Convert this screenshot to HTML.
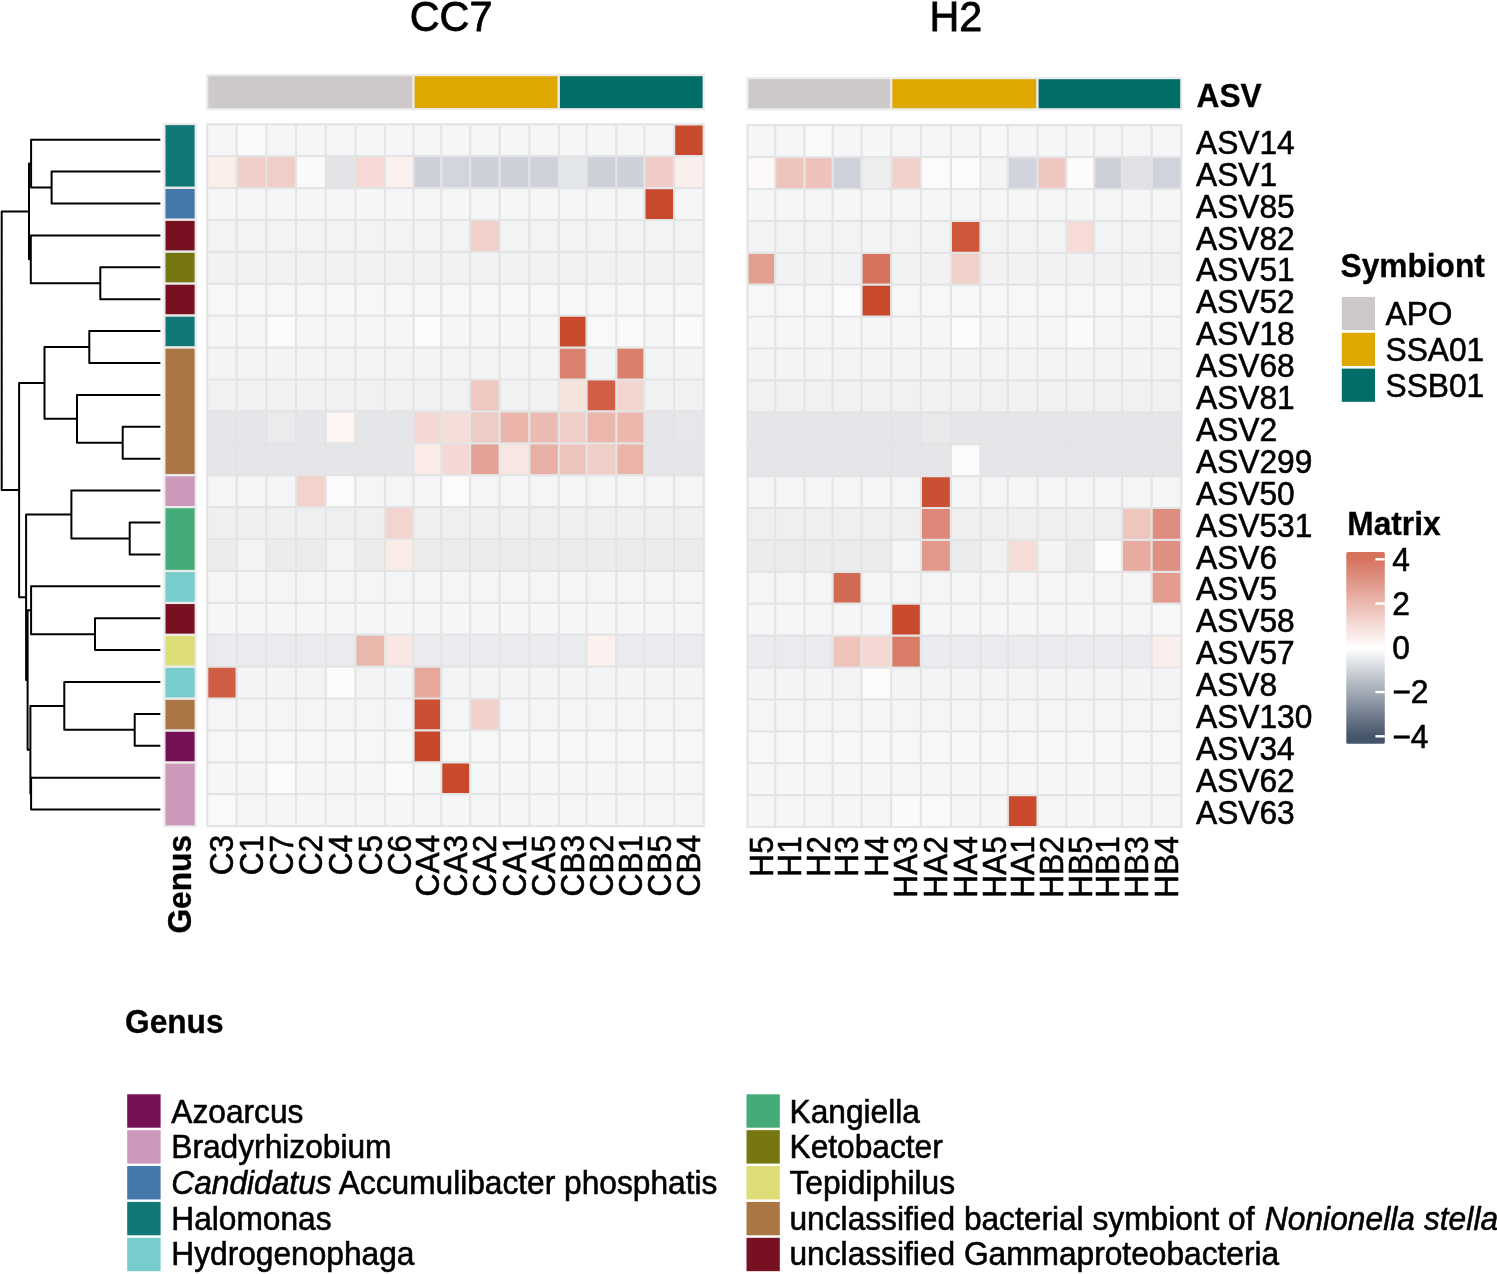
<!DOCTYPE html>
<html lang="en"><head><meta charset="utf-8"><title>Heatmap</title>
<style>html,body{margin:0;padding:0;background:#fff}svg{display:block;will-change:transform}</style>
</head><body>
<svg width="1497" height="1274" viewBox="0 0 1497 1274" font-family='"Liberation Sans", Arial, Helvetica, sans-serif' font-size="31.7" fill="#000">
<rect width="1497" height="1274" fill="#fff"/>
<text transform="translate(409.80 31.20) scale(1 1.04)" font-size="41.3" stroke="#000" stroke-width="0.8">CC7</text>
<text transform="translate(929.50 31.20) scale(1 1.04)" font-size="41.3" stroke="#000" stroke-width="0.8">H2</text>
<rect x="207.20" y="75.10" width="206.30" height="34.10" fill="#cdc9ca" stroke="#ebebeb" stroke-width="2.2"/>
<rect x="413.50" y="75.10" width="145.30" height="34.10" fill="#dea800" stroke="#ebebeb" stroke-width="2.2"/>
<rect x="558.80" y="75.10" width="144.90" height="34.10" fill="#006d67" stroke="#ebebeb" stroke-width="2.2"/>
<rect x="747.50" y="78.10" width="143.70" height="31.20" fill="#cdc9ca" stroke="#ebebeb" stroke-width="2.2"/>
<rect x="891.20" y="78.10" width="146.30" height="31.20" fill="#dea800" stroke="#ebebeb" stroke-width="2.2"/>
<rect x="1037.50" y="78.10" width="143.80" height="31.20" fill="#006d67" stroke="#ebebeb" stroke-width="2.2"/>
<rect x="207.20" y="124.30" width="496.50" height="31.90" fill="#f5f6f8"/>
<rect x="236.65" y="124.30" width="29.65" height="31.90" fill="#fafafa"/>
<rect x="674.10" y="124.30" width="29.60" height="31.90" fill="#c8492c"/>
<rect x="207.20" y="156.20" width="29.45" height="31.90" fill="#fbefec"/>
<rect x="236.65" y="156.20" width="29.65" height="31.90" fill="#f1cfc9"/>
<rect x="266.30" y="156.20" width="29.70" height="31.90" fill="#f0cdc7"/>
<rect x="296.00" y="156.20" width="29.70" height="31.90" fill="#fafafa"/>
<rect x="325.70" y="156.20" width="29.70" height="31.90" fill="#e3e4e8"/>
<rect x="355.40" y="156.20" width="29.60" height="31.90" fill="#f6d9d4"/>
<rect x="385.00" y="156.20" width="28.50" height="31.90" fill="#fcf1ef"/>
<rect x="413.50" y="156.20" width="27.70" height="31.90" fill="#cdd0d9"/>
<rect x="441.20" y="156.20" width="28.90" height="31.90" fill="#d2d5dc"/>
<rect x="470.10" y="156.20" width="29.50" height="31.90" fill="#cdd0d9"/>
<rect x="499.60" y="156.20" width="29.70" height="31.90" fill="#cdd0d9"/>
<rect x="529.30" y="156.20" width="29.50" height="31.90" fill="#cfd1da"/>
<rect x="558.80" y="156.20" width="27.80" height="31.90" fill="#e3e6e9"/>
<rect x="586.60" y="156.20" width="29.70" height="31.90" fill="#cdd0d9"/>
<rect x="616.30" y="156.20" width="28.10" height="31.90" fill="#cdd0d9"/>
<rect x="644.40" y="156.20" width="29.70" height="31.90" fill="#f1ccc6"/>
<rect x="674.10" y="156.20" width="29.60" height="31.90" fill="#faefec"/>
<rect x="207.20" y="188.10" width="496.50" height="31.90" fill="#f5f6f8"/>
<rect x="644.40" y="188.10" width="29.70" height="31.90" fill="#c8492c"/>
<rect x="207.20" y="220.00" width="496.50" height="31.90" fill="#f2f3f5"/>
<rect x="470.10" y="220.00" width="29.50" height="31.90" fill="#f0d0c9"/>
<rect x="207.20" y="251.90" width="496.50" height="31.90" fill="#f1f2f4"/>
<rect x="207.20" y="283.80" width="496.50" height="31.90" fill="#f6f7f7"/>
<rect x="207.20" y="315.70" width="496.50" height="31.90" fill="#f5f6f8"/>
<rect x="266.30" y="315.70" width="29.70" height="31.90" fill="#fafbfa"/>
<rect x="413.50" y="315.70" width="27.70" height="31.90" fill="#fafbfa"/>
<rect x="558.80" y="315.70" width="27.80" height="31.90" fill="#c8492c"/>
<rect x="586.60" y="315.70" width="29.70" height="31.90" fill="#f8f9f9"/>
<rect x="616.30" y="315.70" width="28.10" height="31.90" fill="#f8f9f9"/>
<rect x="674.10" y="315.70" width="29.60" height="31.90" fill="#fafafa"/>
<rect x="207.20" y="347.60" width="496.50" height="31.90" fill="#f3f4f6"/>
<rect x="558.80" y="347.60" width="27.80" height="31.90" fill="#d9806e"/>
<rect x="616.30" y="347.60" width="28.10" height="31.90" fill="#d97f6c"/>
<rect x="207.20" y="379.50" width="496.50" height="31.90" fill="#f0f1f3"/>
<rect x="470.10" y="379.50" width="29.50" height="31.90" fill="#efc8c1"/>
<rect x="558.80" y="379.50" width="27.80" height="31.90" fill="#f5e3de"/>
<rect x="586.60" y="379.50" width="29.70" height="31.90" fill="#d05f45"/>
<rect x="616.30" y="379.50" width="28.10" height="31.90" fill="#f3d5cf"/>
<rect x="207.20" y="411.40" width="496.50" height="31.90" fill="#e4e6e9"/>
<rect x="266.30" y="411.40" width="29.70" height="31.90" fill="#eaebed"/>
<rect x="325.70" y="411.40" width="29.70" height="31.90" fill="#fdf5f4"/>
<rect x="413.50" y="411.40" width="27.70" height="31.90" fill="#f4d8d3"/>
<rect x="441.20" y="411.40" width="28.90" height="31.90" fill="#f5ddd8"/>
<rect x="470.10" y="411.40" width="29.50" height="31.90" fill="#efcbc5"/>
<rect x="499.60" y="411.40" width="29.70" height="31.90" fill="#eab5aa"/>
<rect x="529.30" y="411.40" width="29.50" height="31.90" fill="#ebbab0"/>
<rect x="558.80" y="411.40" width="27.80" height="31.90" fill="#f0cec7"/>
<rect x="586.60" y="411.40" width="29.70" height="31.90" fill="#ebb6ab"/>
<rect x="616.30" y="411.40" width="28.10" height="31.90" fill="#ecb8ae"/>
<rect x="674.10" y="411.40" width="29.60" height="31.90" fill="#e6e7ea"/>
<rect x="207.20" y="443.30" width="496.50" height="31.90" fill="#e5e6e9"/>
<rect x="413.50" y="443.30" width="27.70" height="31.90" fill="#faebe8"/>
<rect x="441.20" y="443.30" width="28.90" height="31.90" fill="#f5d8d3"/>
<rect x="470.10" y="443.30" width="29.50" height="31.90" fill="#e3a295"/>
<rect x="499.60" y="443.30" width="29.70" height="31.90" fill="#f7e6e1"/>
<rect x="529.30" y="443.30" width="29.50" height="31.90" fill="#e7b0a4"/>
<rect x="558.80" y="443.30" width="27.80" height="31.90" fill="#edc4bc"/>
<rect x="586.60" y="443.30" width="29.70" height="31.90" fill="#f0cdc6"/>
<rect x="616.30" y="443.30" width="28.10" height="31.90" fill="#eab4a9"/>
<rect x="207.20" y="475.20" width="496.50" height="31.90" fill="#f4f5f7"/>
<rect x="296.00" y="475.20" width="29.70" height="31.90" fill="#f2d2cb"/>
<rect x="325.70" y="475.20" width="29.70" height="31.90" fill="#fafbfa"/>
<rect x="441.20" y="475.20" width="28.90" height="31.90" fill="#fbfbfb"/>
<rect x="207.20" y="507.10" width="496.50" height="31.90" fill="#eeeff1"/>
<rect x="385.00" y="507.10" width="28.50" height="31.90" fill="#f3d4ce"/>
<rect x="207.20" y="539.00" width="496.50" height="31.90" fill="#ebecee"/>
<rect x="236.65" y="539.00" width="29.65" height="31.90" fill="#f2f3f5"/>
<rect x="325.70" y="539.00" width="29.70" height="31.90" fill="#f2f3f5"/>
<rect x="385.00" y="539.00" width="28.50" height="31.90" fill="#f9ebe8"/>
<rect x="207.20" y="570.90" width="496.50" height="31.90" fill="#f4f5f7"/>
<rect x="207.20" y="602.80" width="496.50" height="31.90" fill="#f5f6f8"/>
<rect x="207.20" y="634.70" width="496.50" height="31.90" fill="#eaebee"/>
<rect x="355.40" y="634.70" width="29.60" height="31.90" fill="#e9b7ab"/>
<rect x="385.00" y="634.70" width="28.50" height="31.90" fill="#f8e6e3"/>
<rect x="586.60" y="634.70" width="29.70" height="31.90" fill="#fbf0ed"/>
<rect x="207.20" y="666.60" width="496.50" height="31.90" fill="#f3f4f6"/>
<rect x="207.20" y="666.60" width="29.45" height="31.90" fill="#d05e45"/>
<rect x="325.70" y="666.60" width="29.70" height="31.90" fill="#fafbfa"/>
<rect x="413.50" y="666.60" width="27.70" height="31.90" fill="#e8a99d"/>
<rect x="207.20" y="698.50" width="496.50" height="31.90" fill="#f4f5f7"/>
<rect x="413.50" y="698.50" width="27.70" height="31.90" fill="#ca4f33"/>
<rect x="470.10" y="698.50" width="29.50" height="31.90" fill="#f1d1ca"/>
<rect x="207.20" y="730.40" width="496.50" height="31.90" fill="#f6f7f7"/>
<rect x="413.50" y="730.40" width="27.70" height="31.90" fill="#c7472a"/>
<rect x="207.20" y="762.30" width="496.50" height="31.90" fill="#f5f6f6"/>
<rect x="266.30" y="762.30" width="29.70" height="31.90" fill="#fdfbfa"/>
<rect x="385.00" y="762.30" width="28.50" height="31.90" fill="#fafafa"/>
<rect x="441.20" y="762.30" width="28.90" height="31.90" fill="#c8492c"/>
<rect x="207.20" y="794.20" width="496.50" height="31.90" fill="#f5f6f8"/>
<rect x="207.20" y="794.20" width="29.45" height="31.90" fill="#f8f9f9"/>
<path d="M207.20 124.30V826.10M236.65 124.30V826.10M266.30 124.30V826.10M296.00 124.30V826.10M325.70 124.30V826.10M355.40 124.30V826.10M385.00 124.30V826.10M413.50 124.30V826.10M441.20 124.30V826.10M470.10 124.30V826.10M499.60 124.30V826.10M529.30 124.30V826.10M558.80 124.30V826.10M586.60 124.30V826.10M616.30 124.30V826.10M644.40 124.30V826.10M674.10 124.30V826.10M703.70 124.30V826.10M207.20 124.30H703.70M207.20 156.20H703.70M207.20 188.10H703.70M207.20 220.00H703.70M207.20 251.90H703.70M207.20 283.80H703.70M207.20 315.70H703.70M207.20 347.60H703.70M207.20 379.50H703.70M207.20 411.40H703.70M207.20 443.30H703.70M207.20 475.20H703.70M207.20 507.10H703.70M207.20 539.00H703.70M207.20 570.90H703.70M207.20 602.80H703.70M207.20 634.70H703.70M207.20 666.60H703.70M207.20 698.50H703.70M207.20 730.40H703.70M207.20 762.30H703.70M207.20 794.20H703.70M207.20 826.10H703.70" stroke="#e4e4e4" stroke-width="2.2" fill="none" stroke-linecap="square"/>
<rect x="747.50" y="125.20" width="433.80" height="31.90" fill="#f5f6f8"/>
<rect x="804.50" y="125.20" width="28.10" height="31.90" fill="#f9fafa"/>
<rect x="980.50" y="125.20" width="27.30" height="31.90" fill="#f7f8f7"/>
<rect x="747.50" y="157.10" width="27.70" height="31.90" fill="#fdf9f8"/>
<rect x="775.20" y="157.10" width="29.30" height="31.90" fill="#efc4bc"/>
<rect x="804.50" y="157.10" width="28.10" height="31.90" fill="#eec2ba"/>
<rect x="832.60" y="157.10" width="28.90" height="31.90" fill="#ced1d9"/>
<rect x="861.50" y="157.10" width="29.70" height="31.90" fill="#edeef0"/>
<rect x="891.20" y="157.10" width="29.70" height="31.90" fill="#f2d1cb"/>
<rect x="920.90" y="157.10" width="30.00" height="31.90" fill="#fcfbfa"/>
<rect x="950.90" y="157.10" width="29.60" height="31.90" fill="#fdfcfa"/>
<rect x="980.50" y="157.10" width="27.30" height="31.90" fill="#f3f4f6"/>
<rect x="1007.80" y="157.10" width="29.70" height="31.90" fill="#d1d4dc"/>
<rect x="1037.50" y="157.10" width="28.80" height="31.90" fill="#eec8c0"/>
<rect x="1066.30" y="157.10" width="27.80" height="31.90" fill="#fdfcfa"/>
<rect x="1094.10" y="157.10" width="27.90" height="31.90" fill="#cdd0d8"/>
<rect x="1122.00" y="157.10" width="29.60" height="31.90" fill="#dfe1e6"/>
<rect x="1151.60" y="157.10" width="29.70" height="31.90" fill="#d0d3db"/>
<rect x="747.50" y="189.00" width="433.80" height="31.90" fill="#f5f6f8"/>
<rect x="747.50" y="220.90" width="433.80" height="31.90" fill="#f2f3f5"/>
<rect x="950.90" y="220.90" width="29.60" height="31.90" fill="#cf573b"/>
<rect x="1066.30" y="220.90" width="27.80" height="31.90" fill="#f6dbd6"/>
<rect x="747.50" y="252.80" width="433.80" height="31.90" fill="#f1f2f4"/>
<rect x="747.50" y="252.80" width="27.70" height="31.90" fill="#e2a091"/>
<rect x="861.50" y="252.80" width="29.70" height="31.90" fill="#d6725d"/>
<rect x="950.90" y="252.80" width="29.60" height="31.90" fill="#f1d2cb"/>
<rect x="747.50" y="284.70" width="433.80" height="31.90" fill="#f6f7f7"/>
<rect x="832.60" y="284.70" width="28.90" height="31.90" fill="#fbfbfb"/>
<rect x="861.50" y="284.70" width="29.70" height="31.90" fill="#c8492c"/>
<rect x="747.50" y="316.60" width="433.80" height="31.90" fill="#f5f6f8"/>
<rect x="950.90" y="316.60" width="29.60" height="31.90" fill="#fbfbfb"/>
<rect x="1066.30" y="316.60" width="27.80" height="31.90" fill="#f9faf9"/>
<rect x="747.50" y="348.50" width="433.80" height="31.90" fill="#f3f4f6"/>
<rect x="747.50" y="380.40" width="433.80" height="31.90" fill="#f0f1f3"/>
<rect x="747.50" y="412.30" width="433.80" height="31.90" fill="#e4e6e9"/>
<rect x="920.90" y="412.30" width="30.00" height="31.90" fill="#e8e9eb"/>
<rect x="747.50" y="444.20" width="433.80" height="31.90" fill="#e5e6e9"/>
<rect x="950.90" y="444.20" width="29.60" height="31.90" fill="#fbfbfb"/>
<rect x="747.50" y="476.10" width="433.80" height="31.90" fill="#f4f5f7"/>
<rect x="920.90" y="476.10" width="30.00" height="31.90" fill="#ca4f33"/>
<rect x="747.50" y="508.00" width="433.80" height="31.90" fill="#eeeff1"/>
<rect x="920.90" y="508.00" width="30.00" height="31.90" fill="#dc8778"/>
<rect x="1122.00" y="508.00" width="29.60" height="31.90" fill="#efc6be"/>
<rect x="1151.60" y="508.00" width="29.70" height="31.90" fill="#de8e80"/>
<rect x="747.50" y="539.90" width="433.80" height="31.90" fill="#ebecee"/>
<rect x="891.20" y="539.90" width="29.70" height="31.90" fill="#f4f5f7"/>
<rect x="920.90" y="539.90" width="30.00" height="31.90" fill="#e2998b"/>
<rect x="980.50" y="539.90" width="27.30" height="31.90" fill="#f0f1f3"/>
<rect x="1007.80" y="539.90" width="29.70" height="31.90" fill="#f5dcd7"/>
<rect x="1037.50" y="539.90" width="28.80" height="31.90" fill="#f3f4f6"/>
<rect x="1094.10" y="539.90" width="27.90" height="31.90" fill="#fcfcfb"/>
<rect x="1122.00" y="539.90" width="29.60" height="31.90" fill="#e7ab9f"/>
<rect x="1151.60" y="539.90" width="29.70" height="31.90" fill="#de9183"/>
<rect x="747.50" y="571.80" width="433.80" height="31.90" fill="#f4f5f7"/>
<rect x="832.60" y="571.80" width="28.90" height="31.90" fill="#d26a53"/>
<rect x="1151.60" y="571.80" width="29.70" height="31.90" fill="#e29b8e"/>
<rect x="747.50" y="603.70" width="433.80" height="31.90" fill="#f5f6f8"/>
<rect x="891.20" y="603.70" width="29.70" height="31.90" fill="#c8492c"/>
<rect x="1151.60" y="603.70" width="29.70" height="31.90" fill="#f7f8f7"/>
<rect x="747.50" y="635.60" width="433.80" height="31.90" fill="#eaebee"/>
<rect x="832.60" y="635.60" width="28.90" height="31.90" fill="#efc3ba"/>
<rect x="861.50" y="635.60" width="29.70" height="31.90" fill="#f5d8d3"/>
<rect x="891.20" y="635.60" width="29.70" height="31.90" fill="#d97b67"/>
<rect x="1151.60" y="635.60" width="29.70" height="31.90" fill="#fbefed"/>
<rect x="747.50" y="667.50" width="433.80" height="31.90" fill="#f3f4f6"/>
<rect x="861.50" y="667.50" width="29.70" height="31.90" fill="#fdfbfa"/>
<rect x="747.50" y="699.40" width="433.80" height="31.90" fill="#f4f5f7"/>
<rect x="747.50" y="731.30" width="433.80" height="31.90" fill="#f6f7f7"/>
<rect x="747.50" y="763.20" width="433.80" height="31.90" fill="#f5f6f6"/>
<rect x="747.50" y="795.10" width="433.80" height="31.90" fill="#f5f6f8"/>
<rect x="891.20" y="795.10" width="29.70" height="31.90" fill="#fafafa"/>
<rect x="920.90" y="795.10" width="30.00" height="31.90" fill="#f9f9f9"/>
<rect x="1007.80" y="795.10" width="29.70" height="31.90" fill="#c8492c"/>
<path d="M747.50 125.20V827.00M775.20 125.20V827.00M804.50 125.20V827.00M832.60 125.20V827.00M861.50 125.20V827.00M891.20 125.20V827.00M920.90 125.20V827.00M950.90 125.20V827.00M980.50 125.20V827.00M1007.80 125.20V827.00M1037.50 125.20V827.00M1066.30 125.20V827.00M1094.10 125.20V827.00M1122.00 125.20V827.00M1151.60 125.20V827.00M1181.30 125.20V827.00M747.50 125.20H1181.30M747.50 157.10H1181.30M747.50 189.00H1181.30M747.50 220.90H1181.30M747.50 252.80H1181.30M747.50 284.70H1181.30M747.50 316.60H1181.30M747.50 348.50H1181.30M747.50 380.40H1181.30M747.50 412.30H1181.30M747.50 444.20H1181.30M747.50 476.10H1181.30M747.50 508.00H1181.30M747.50 539.90H1181.30M747.50 571.80H1181.30M747.50 603.70H1181.30M747.50 635.60H1181.30M747.50 667.50H1181.30M747.50 699.40H1181.30M747.50 731.30H1181.30M747.50 763.20H1181.30M747.50 795.10H1181.30M747.50 827.00H1181.30" stroke="#e4e4e4" stroke-width="2.2" fill="none" stroke-linecap="square"/>
<rect x="164.4" y="124.00" width="31.30" height="63.86" fill="#117777" stroke="#ebebeb" stroke-width="2.2"/>
<rect x="164.4" y="187.86" width="31.30" height="31.93" fill="#4477aa" stroke="#ebebeb" stroke-width="2.2"/>
<rect x="164.4" y="219.79" width="31.30" height="31.93" fill="#771122" stroke="#ebebeb" stroke-width="2.2"/>
<rect x="164.4" y="251.72" width="31.30" height="31.93" fill="#777711" stroke="#ebebeb" stroke-width="2.2"/>
<rect x="164.4" y="283.65" width="31.30" height="31.93" fill="#771122" stroke="#ebebeb" stroke-width="2.2"/>
<rect x="164.4" y="315.58" width="31.30" height="31.93" fill="#117777" stroke="#ebebeb" stroke-width="2.2"/>
<rect x="164.4" y="347.51" width="31.30" height="127.72" fill="#aa7744" stroke="#ebebeb" stroke-width="2.2"/>
<rect x="164.4" y="475.23" width="31.30" height="31.93" fill="#cc99bb" stroke="#ebebeb" stroke-width="2.2"/>
<rect x="164.4" y="507.16" width="31.30" height="63.86" fill="#44aa77" stroke="#ebebeb" stroke-width="2.2"/>
<rect x="164.4" y="571.02" width="31.30" height="31.93" fill="#77cccc" stroke="#ebebeb" stroke-width="2.2"/>
<rect x="164.4" y="602.95" width="31.30" height="31.93" fill="#771122" stroke="#ebebeb" stroke-width="2.2"/>
<rect x="164.4" y="634.88" width="31.30" height="31.93" fill="#dddd77" stroke="#ebebeb" stroke-width="2.2"/>
<rect x="164.4" y="666.81" width="31.30" height="31.93" fill="#77cccc" stroke="#ebebeb" stroke-width="2.2"/>
<rect x="164.4" y="698.74" width="31.30" height="31.93" fill="#aa7744" stroke="#ebebeb" stroke-width="2.2"/>
<rect x="164.4" y="730.67" width="31.30" height="31.93" fill="#771155" stroke="#ebebeb" stroke-width="2.2"/>
<rect x="164.4" y="762.60" width="31.30" height="63.86" fill="#cc99bb" stroke="#ebebeb" stroke-width="2.2"/>
<path d="M51.6 171.60H159.6M51.6 203.50H159.6M51.6 171.60V203.50M31.1 139.70H159.6M31.1 139.70V187.55M31.1 187.55H51.6M100.3 267.30H159.6M100.3 299.20H159.6M100.3 267.30V299.20M30.8 235.40H159.6M30.8 235.40V283.25M30.8 283.25H100.3M29.0 163.62V259.32M29.0 163.62H31.1M29.0 259.32H30.8M89.3 331.10H159.6M89.3 363.00H159.6M89.3 331.10V363.00M122.7 426.80H159.6M122.7 458.70H159.6M122.7 426.80V458.70M77.0 394.90H159.6M77.0 394.90V442.75M77.0 442.75H122.7M44.5 347.05V418.82M44.5 347.05H89.3M44.5 418.82H77.0M129.7 522.50H159.6M129.7 554.40H159.6M129.7 522.50V554.40M71.4 490.60H159.6M71.4 490.60V538.45M71.4 538.45H129.7M95.0 618.20H159.6M95.0 650.10H159.6M95.0 618.20V650.10M31.1 586.30H159.6M31.1 586.30V634.15M31.1 634.15H95.0M134.7 713.90H159.6M134.7 745.80H159.6M134.7 713.90V745.80M64.3 682.00H159.6M64.3 682.00V729.85M64.3 729.85H134.7M31.1 777.70H159.6M31.1 809.60H159.6M31.1 777.70V809.60M30.4 705.92V793.65M30.4 705.92H64.3M30.4 793.65H31.1M27.6 610.22V749.79M27.6 610.22H31.1M27.6 749.79H30.4M26.1 514.52V680.01M26.1 514.52H71.4M26.1 680.01H27.6M19.1 382.94V597.27M19.1 382.94H44.5M19.1 597.27H26.1M1.7 211.47V490.10M1.7 211.47H29.0M1.7 490.10H19.1" stroke="#000" stroke-width="2" fill="none" stroke-linecap="round" stroke-linejoin="round"/>
<text transform="translate(1196.00 153.80) scale(1 1.04)" stroke="#000" stroke-width="0.55">ASV14</text>
<text transform="translate(1196.00 185.71) scale(1 1.04)" stroke="#000" stroke-width="0.55">ASV1</text>
<text transform="translate(1196.00 217.61) scale(1 1.04)" stroke="#000" stroke-width="0.55">ASV85</text>
<text transform="translate(1196.00 249.52) scale(1 1.04)" stroke="#000" stroke-width="0.55">ASV82</text>
<text transform="translate(1196.00 281.42) scale(1 1.04)" stroke="#000" stroke-width="0.55">ASV51</text>
<text transform="translate(1196.00 313.33) scale(1 1.04)" stroke="#000" stroke-width="0.55">ASV52</text>
<text transform="translate(1196.00 345.23) scale(1 1.04)" stroke="#000" stroke-width="0.55">ASV18</text>
<text transform="translate(1196.00 377.13) scale(1 1.04)" stroke="#000" stroke-width="0.55">ASV68</text>
<text transform="translate(1196.00 409.04) scale(1 1.04)" stroke="#000" stroke-width="0.55">ASV81</text>
<text transform="translate(1196.00 440.94) scale(1 1.04)" stroke="#000" stroke-width="0.55">ASV2</text>
<text transform="translate(1196.00 472.85) scale(1 1.04)" stroke="#000" stroke-width="0.55">ASV299</text>
<text transform="translate(1196.00 504.76) scale(1 1.04)" stroke="#000" stroke-width="0.55">ASV50</text>
<text transform="translate(1196.00 536.66) scale(1 1.04)" stroke="#000" stroke-width="0.55">ASV531</text>
<text transform="translate(1196.00 568.57) scale(1 1.04)" stroke="#000" stroke-width="0.55">ASV6</text>
<text transform="translate(1196.00 600.47) scale(1 1.04)" stroke="#000" stroke-width="0.55">ASV5</text>
<text transform="translate(1196.00 632.38) scale(1 1.04)" stroke="#000" stroke-width="0.55">ASV58</text>
<text transform="translate(1196.00 664.28) scale(1 1.04)" stroke="#000" stroke-width="0.55">ASV57</text>
<text transform="translate(1196.00 696.18) scale(1 1.04)" stroke="#000" stroke-width="0.55">ASV8</text>
<text transform="translate(1196.00 728.09) scale(1 1.04)" stroke="#000" stroke-width="0.55">ASV130</text>
<text transform="translate(1196.00 760.00) scale(1 1.04)" stroke="#000" stroke-width="0.55">ASV34</text>
<text transform="translate(1196.00 791.90) scale(1 1.04)" stroke="#000" stroke-width="0.55">ASV62</text>
<text transform="translate(1196.00 823.81) scale(1 1.04)" stroke="#000" stroke-width="0.55">ASV63</text>
<text transform="translate(1196.50 107.10) scale(1 1.02)" font-weight="bold" stroke="#000" stroke-width="0.3">ASV</text>
<text transform="translate(233.33 834.80) rotate(-90) scale(1 1.04)" text-anchor="end" stroke="#000" stroke-width="0.55">C3</text>
<text transform="translate(262.88 834.80) rotate(-90) scale(1 1.04)" text-anchor="end" stroke="#000" stroke-width="0.55">C1</text>
<text transform="translate(292.55 834.80) rotate(-90) scale(1 1.04)" text-anchor="end" stroke="#000" stroke-width="0.55">C7</text>
<text transform="translate(322.25 834.80) rotate(-90) scale(1 1.04)" text-anchor="end" stroke="#000" stroke-width="0.55">C2</text>
<text transform="translate(351.95 834.80) rotate(-90) scale(1 1.04)" text-anchor="end" stroke="#000" stroke-width="0.55">C4</text>
<text transform="translate(381.60 834.80) rotate(-90) scale(1 1.04)" text-anchor="end" stroke="#000" stroke-width="0.55">C5</text>
<text transform="translate(410.65 834.80) rotate(-90) scale(1 1.04)" text-anchor="end" stroke="#000" stroke-width="0.55">C6</text>
<text transform="translate(438.75 834.80) rotate(-90) scale(1 1.04)" text-anchor="end" stroke="#000" stroke-width="0.55">CA4</text>
<text transform="translate(467.05 834.80) rotate(-90) scale(1 1.04)" text-anchor="end" stroke="#000" stroke-width="0.55">CA3</text>
<text transform="translate(496.25 834.80) rotate(-90) scale(1 1.04)" text-anchor="end" stroke="#000" stroke-width="0.55">CA2</text>
<text transform="translate(525.85 834.80) rotate(-90) scale(1 1.04)" text-anchor="end" stroke="#000" stroke-width="0.55">CA1</text>
<text transform="translate(555.45 834.80) rotate(-90) scale(1 1.04)" text-anchor="end" stroke="#000" stroke-width="0.55">CA5</text>
<text transform="translate(584.10 834.80) rotate(-90) scale(1 1.04)" text-anchor="end" stroke="#000" stroke-width="0.55">CB3</text>
<text transform="translate(612.85 834.80) rotate(-90) scale(1 1.04)" text-anchor="end" stroke="#000" stroke-width="0.55">CB2</text>
<text transform="translate(641.75 834.80) rotate(-90) scale(1 1.04)" text-anchor="end" stroke="#000" stroke-width="0.55">CB1</text>
<text transform="translate(670.65 834.80) rotate(-90) scale(1 1.04)" text-anchor="end" stroke="#000" stroke-width="0.55">CB5</text>
<text transform="translate(700.30 834.80) rotate(-90) scale(1 1.04)" text-anchor="end" stroke="#000" stroke-width="0.55">CB4</text>
<text transform="translate(772.75 836.20) rotate(-90) scale(1 1.04)" text-anchor="end" stroke="#000" stroke-width="0.55">H5</text>
<text transform="translate(801.25 836.20) rotate(-90) scale(1 1.04)" text-anchor="end" stroke="#000" stroke-width="0.55">H1</text>
<text transform="translate(829.95 836.20) rotate(-90) scale(1 1.04)" text-anchor="end" stroke="#000" stroke-width="0.55">H2</text>
<text transform="translate(858.45 836.20) rotate(-90) scale(1 1.04)" text-anchor="end" stroke="#000" stroke-width="0.55">H3</text>
<text transform="translate(887.75 836.20) rotate(-90) scale(1 1.04)" text-anchor="end" stroke="#000" stroke-width="0.55">H4</text>
<text transform="translate(917.45 836.20) rotate(-90) scale(1 1.04)" text-anchor="end" stroke="#000" stroke-width="0.55">HA3</text>
<text transform="translate(947.30 836.20) rotate(-90) scale(1 1.04)" text-anchor="end" stroke="#000" stroke-width="0.55">HA2</text>
<text transform="translate(977.10 836.20) rotate(-90) scale(1 1.04)" text-anchor="end" stroke="#000" stroke-width="0.55">HA4</text>
<text transform="translate(1005.55 836.20) rotate(-90) scale(1 1.04)" text-anchor="end" stroke="#000" stroke-width="0.55">HA5</text>
<text transform="translate(1034.05 836.20) rotate(-90) scale(1 1.04)" text-anchor="end" stroke="#000" stroke-width="0.55">HA1</text>
<text transform="translate(1063.30 836.20) rotate(-90) scale(1 1.04)" text-anchor="end" stroke="#000" stroke-width="0.55">HB2</text>
<text transform="translate(1091.60 836.20) rotate(-90) scale(1 1.04)" text-anchor="end" stroke="#000" stroke-width="0.55">HB5</text>
<text transform="translate(1119.45 836.20) rotate(-90) scale(1 1.04)" text-anchor="end" stroke="#000" stroke-width="0.55">HB1</text>
<text transform="translate(1148.20 836.20) rotate(-90) scale(1 1.04)" text-anchor="end" stroke="#000" stroke-width="0.55">HB3</text>
<text transform="translate(1177.85 836.20) rotate(-90) scale(1 1.04)" text-anchor="end" stroke="#000" stroke-width="0.55">HB4</text>
<text transform="translate(191.40 835.00) rotate(-90) scale(1 1.02)" font-weight="bold" text-anchor="end" stroke="#000" stroke-width="0.3">Genus</text>
<text transform="translate(1340.50 277.40) scale(1 1.02)" font-weight="bold" stroke="#000" stroke-width="0.3">Symbiont</text>
<rect x="1341.8" y="296.90" width="33.2" height="33.2" fill="#cdc9ca"/>
<text transform="translate(1385.50 325.00) scale(1 1.04)" stroke="#000" stroke-width="0.55">APO</text>
<rect x="1341.8" y="332.75" width="33.2" height="33.2" fill="#dea800"/>
<text transform="translate(1385.50 360.80) scale(1 1.04)" stroke="#000" stroke-width="0.55">SSA01</text>
<rect x="1341.8" y="368.60" width="33.2" height="33.2" fill="#006d67"/>
<text transform="translate(1385.50 396.60) scale(1 1.04)" stroke="#000" stroke-width="0.55">SSB01</text>
<text transform="translate(1347.30 535.10) scale(1 1.02)" font-weight="bold" stroke="#000" stroke-width="0.3">Matrix</text>
<defs><linearGradient id="cb" x1="0" y1="0" x2="0" y2="1"><stop offset="0" stop-color="#d6735f"/><stop offset="0.037" stop-color="#d6735f"/><stop offset="0.5" stop-color="#ffffff"/><stop offset="0.963" stop-color="#44546a"/><stop offset="1" stop-color="#44546a"/></linearGradient></defs>
<rect x="1346.3" y="552" width="38.5" height="191.8" rx="1.5" fill="url(#cb)"/>
<path d="M1375.4 559.30H1384.8" stroke="#fff" stroke-width="2.4"/>
<text transform="translate(1392.30 570.50) scale(1 1.04)" stroke="#000" stroke-width="0.55">4</text>
<path d="M1375.4 603.55H1384.8" stroke="#fff" stroke-width="2.4"/>
<text transform="translate(1392.30 614.75) scale(1 1.04)" stroke="#000" stroke-width="0.55">2</text>
<path d="M1375.4 647.80H1384.8" stroke="#fff" stroke-width="2.4"/>
<text transform="translate(1392.30 659.00) scale(1 1.04)" stroke="#000" stroke-width="0.55">0</text>
<path d="M1375.4 692.05H1384.8" stroke="#fff" stroke-width="2.4"/>
<text transform="translate(1392.30 703.25) scale(1 1.04)" stroke="#000" stroke-width="0.55">−2</text>
<path d="M1375.4 736.30H1384.8" stroke="#fff" stroke-width="2.4"/>
<text transform="translate(1392.30 747.50) scale(1 1.04)" stroke="#000" stroke-width="0.55">−4</text>
<text transform="translate(125.00 1032.80) scale(1 1.02)" font-weight="bold" stroke="#000" stroke-width="0.3">Genus</text>
<rect x="127.2" y="1094.30" width="33.4" height="33.4" fill="#771155"/>
<text transform="translate(171.30 1122.60) scale(1 1.04)" stroke="#000" stroke-width="0.55">Azoarcus</text>
<rect x="127.2" y="1130.17" width="33.4" height="33.4" fill="#cc99bb"/>
<text transform="translate(171.30 1158.30) scale(1 1.04)" stroke="#000" stroke-width="0.55">Bradyrhizobium</text>
<rect x="127.2" y="1166.04" width="33.4" height="33.4" fill="#4477aa"/>
<text transform="translate(171.30 1194.00) scale(1 1.04)" stroke="#000" stroke-width="0.55"><tspan font-style="italic">Candidatus</tspan> Accumulibacter phosphatis</text>
<rect x="127.2" y="1201.91" width="33.4" height="33.4" fill="#117777"/>
<text transform="translate(171.30 1229.70) scale(1 1.04)" stroke="#000" stroke-width="0.55">Halomonas</text>
<rect x="127.2" y="1237.78" width="33.4" height="33.4" fill="#77cccc"/>
<text transform="translate(171.30 1265.40) scale(1 1.04)" stroke="#000" stroke-width="0.55">Hydrogenophaga</text>
<rect x="746.5" y="1094.30" width="33.3" height="33.4" fill="#44aa77"/>
<text transform="translate(789.50 1122.60) scale(1 1.04)" stroke="#000" stroke-width="0.55">Kangiella</text>
<rect x="746.5" y="1130.17" width="33.3" height="33.4" fill="#777711"/>
<text transform="translate(789.50 1158.30) scale(1 1.04)" stroke="#000" stroke-width="0.55">Ketobacter</text>
<rect x="746.5" y="1166.04" width="33.3" height="33.4" fill="#dddd77"/>
<text transform="translate(789.50 1194.00) scale(1 1.04)" stroke="#000" stroke-width="0.55">Tepidiphilus</text>
<rect x="746.5" y="1201.91" width="33.3" height="33.4" fill="#aa7744"/>
<text transform="translate(789.50 1229.70) scale(1 1.04)" stroke="#000" stroke-width="0.55">unclassified bacterial symbiont of <tspan font-style="italic" dx="1.5" letter-spacing="0.05">Nonionella stella</tspan></text>
<rect x="746.5" y="1237.78" width="33.3" height="33.4" fill="#771122"/>
<text transform="translate(789.50 1265.40) scale(1 1.04)" stroke="#000" stroke-width="0.55">unclassified Gammaproteobacteria</text>
</svg>
</body></html>
